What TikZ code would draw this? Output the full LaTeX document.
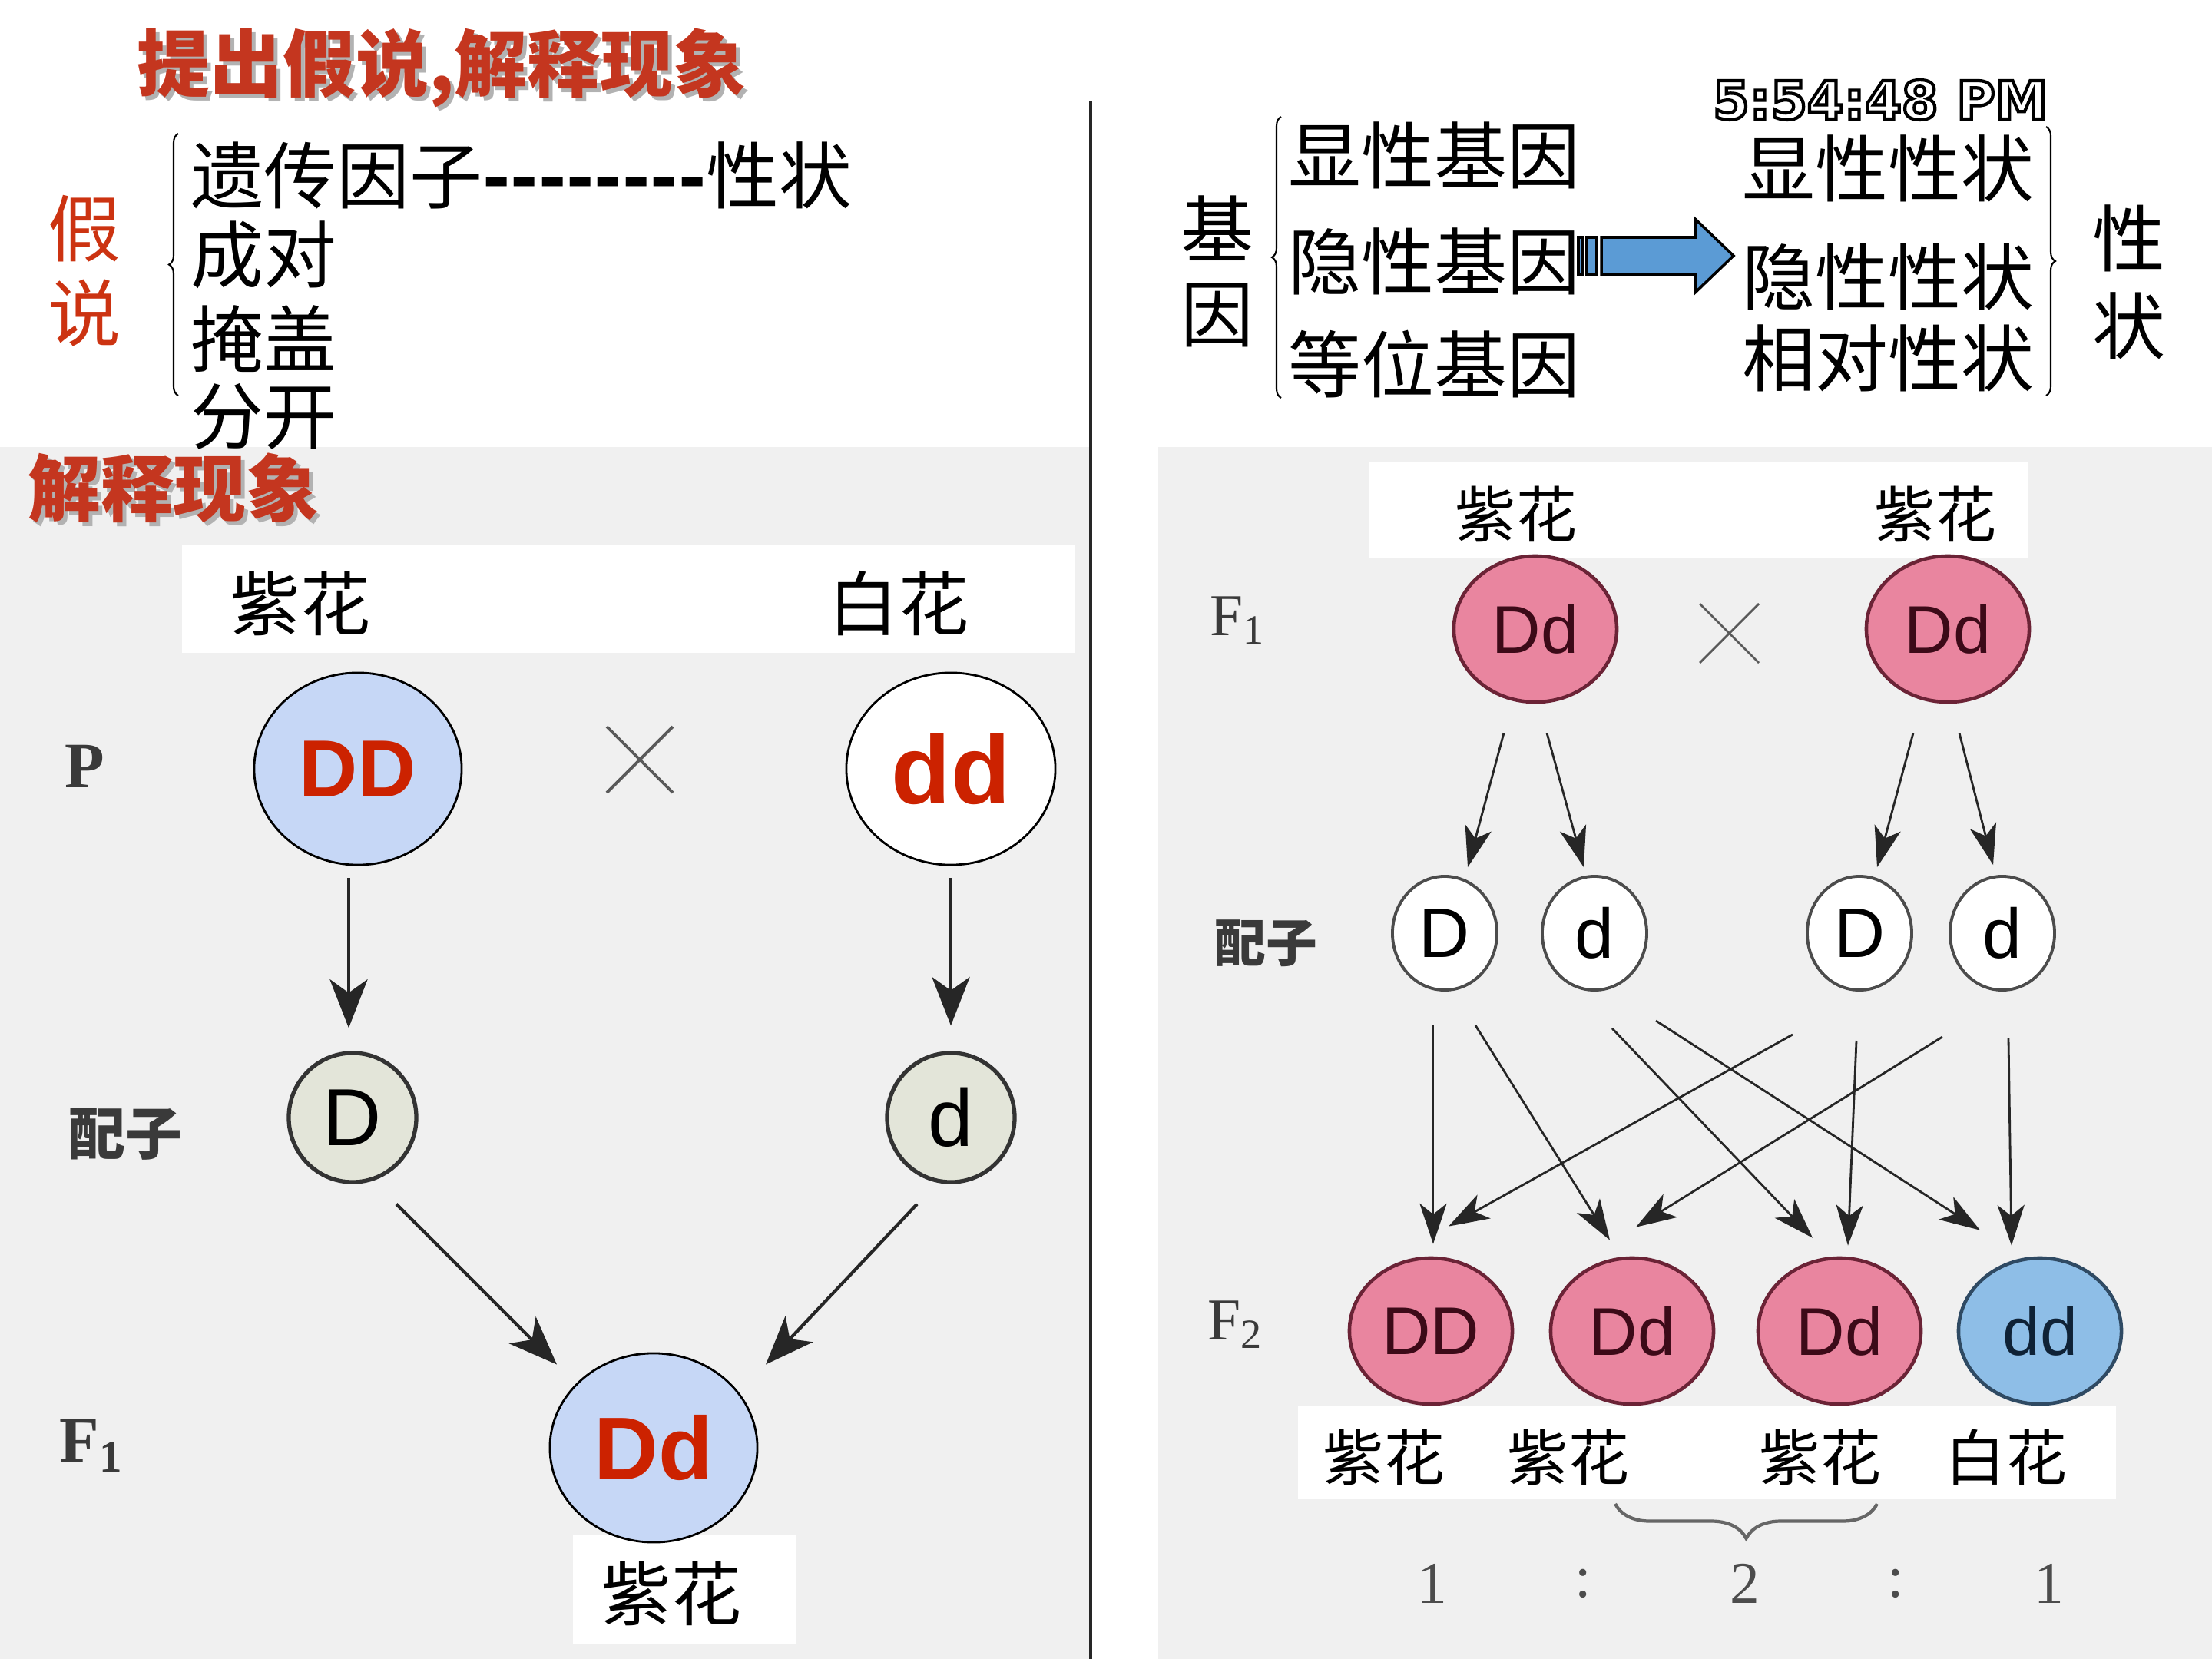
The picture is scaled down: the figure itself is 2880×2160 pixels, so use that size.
\documentclass[tikz,border=0pt]{standalone}
\usepackage{fontspec}
\usetikzlibrary{arrows.meta, shapes.geometric, calc, decorations.pathreplacing}

\newfontfamily\cjk{Noto Sans CJK SC}
\newfontfamily\arialf{Liberation Sans}
\newfontfamily\serf{Liberation Serif}
\newfontfamily\clockf{DejaVu Sans}

\definecolor{titlered}{HTML}{C4361F}
\definecolor{jiared}{HTML}{CC3311}
\definecolor{panel}{HTML}{F0F0F0}
\definecolor{pblue}{HTML}{C6D7F6}
\definecolor{gred}{HTML}{CC2200}
\definecolor{gamfill}{HTML}{E3E5D9}
\definecolor{pinkfill}{HTML}{E9859F}
\definecolor{pinkedge}{HTML}{6B2336}
\definecolor{pinktext}{HTML}{3C0A18}
\definecolor{bluefill}{HTML}{8EBEE7}
\definecolor{blueedge}{HTML}{2F4A63}
\definecolor{bluetext}{HTML}{0F2236}
\definecolor{arrfill}{HTML}{5B9BD5}
\definecolor{labgray}{HTML}{3A3A3A}

% outlined letters for the clock
\newcommand{\outlined}[1]{\special{pdf:literal direct 1 Tr 1.2 w}#1\special{pdf:literal direct 0 Tr 0.3985 w}}
\newcommand{\dashrun}{-\kern0pt-\kern0pt-\kern0pt-\kern0pt-\kern0pt-\kern0pt-\kern0pt-}

\begin{document}
\begin{tikzpicture}[x=0.01cm, y=-0.01cm,
  hz/.style={font=\cjk\fontsize{27}{31.3}\selectfont, inner sep=0pt, align=center},
  hzred/.style={font=\cjk\bfseries\fontsize{27}{30}\selectfont, inner sep=0pt, text=titlered},
  hzshadow/.style={font=\cjk\bfseries\fontsize{27}{30}\selectfont, inner sep=0pt, text=black!30},
  flower/.style={font=\cjk\fontsize{26}{28}\selectfont, inner sep=0pt},
  sflower/.style={font=\cjk\fontsize{22.5}{24}\selectfont, inner sep=0pt},
  stage/.style={font=\serf\bfseries\fontsize{24}{26}\selectfont, text=labgray, inner sep=0pt},
  stagehz/.style={font=\cjk\bfseries\fontsize{21}{23}\selectfont, text=labgray, inner sep=0pt},
  clock/.style={font=\clockf\bfseries\fontsize{19.5}{21}\selectfont, text=black, inner sep=0pt},
  ratio/.style={font=\serf\fontsize{22}{24}\selectfont, text=black!70, inner sep=0pt},
  pcell/.style={ellipse, draw=black, line width=0.8pt, inner sep=0pt, minimum width=2.70cm,
    minimum height=2.50cm, text=gred, font=\arialf\bfseries\fontsize{30}{32}\selectfont},
  lgam/.style={ellipse, draw=black!80, line width=1.5pt, fill=gamfill, inner sep=0pt,
    minimum width=1.66cm, minimum height=1.68cm, font=\arialf\fontsize{30}{32}\selectfont},
  rgam/.style={ellipse, draw=black!70, line width=1.1pt, fill=white, inner sep=0pt,
    minimum width=1.36cm, minimum height=1.48cm, font=\arialf\fontsize{26}{28}\selectfont},
  pinkcell/.style={ellipse, draw=pinkedge, line width=1.3pt, fill=pinkfill, inner sep=0pt,
    minimum width=2.12cm, minimum height=1.90cm, text=pinktext, font=\arialf\fontsize{25}{27}\selectfont},
  larr/.style={draw=black!85, line width=1.2pt, -{Stealth[length=18pt, width=14pt, inset=5pt]}},
  rarr/.style={draw=black!85, line width=0.8pt, -{Stealth[length=15pt, width=10pt, inset=4pt]}},
  crossmark/.style={draw=black!65, line width=1.1pt},
  bracel/.style={decorate, decoration={brace, amplitude=0.12cm}, line width=0.6pt},
  braceg/.style={decorate, decoration={brace, amplitude=0.45cm, aspect=0.5}, draw=black!60, line width=1.2pt},
  blockarr/.style={fill=arrfill, draw=black, line width=1pt},
]
\useasboundingbox (0,0) rectangle (2880,2160);

% panels
\fill[panel] (0,582) rectangle (1420,2160);
\fill[panel] (1508,582) rectangle (2880,2160);
\fill[white] (237,709) rectangle (1400,850);
\fill[white] (746,1998) rectangle (1036,2140);
\fill[white] (1782,602) rectangle (2641,727);
\fill[white] (1690,1831) rectangle (2755,1952);
\draw[black!85, line width=0.9pt] (1420,132) -- (1420,2160);

% hypothesis
\node[hzshadow] at (580,93) {提出假说,解释现象};
\node[hzred] (title) at (575,88) {提出假说,解释现象};
\node[hz, text=jiared] (jiashuo) at (110,353) {假\\说};
\draw[bracel] (232,515) -- (232,174);
\node[hz, anchor=west] (yichuan) at (248,228) {遗传因子{\bfseries\dashrun}性状};
\node[hz, anchor=west] (chengdui) at (248,332) {成对};
\node[hz, anchor=west] (yangai) at (248,441) {掩盖};
\node[hz, anchor=west] (fenkai) at (248,542) {分开};
\node[hzshadow] at (231,640) {解释现象};
\node[hzred] (jieshi) at (226,635) {解释现象};

% gene / trait
\node[hz] (jiyin) at (1585,353) {基\\因};
\draw[bracel] (1668,518) -- (1668,152);
\node[hz, anchor=west] (xianji) at (1677,202) {显性基因};
\node[hz, anchor=west] (yinji) at (1677,340) {隐性基因};
\node[hz, anchor=west] (dengwei) at (1677,474) {等位基因};
\draw[blockarr] (2055,309) rectangle (2060,357);
\draw[blockarr] (2066,309) rectangle (2079,357);
\draw[blockarr] (2085,309) -- (2207,309) -- (2207,285) -- (2257,333) -- (2207,381) -- (2207,357) -- (2085,357) -- cycle;
\node[clock] (clock) at (2448,130) {\outlined{5:54:48 PM}};
\node[hz, anchor=west] (xianxing) at (2268,219) {显性性状};
\node[hz, anchor=west] (yinxing) at (2268,360) {隐性性状};
\node[hz, anchor=west] (xiangdui) at (2268,466) {相对性状};
\draw[bracel] (2664,165) -- (2664,515);
\node[hz, font=\cjk\fontsize{27}{32.4}\selectfont] (xingzhuang) at (2772,367) {性\\状};

% left cross
\node[flower] (zi1) at (391,786) {紫花};
\node[flower] (bai1) at (1170,786) {白花};
\node[stage] (P) at (110,998) {P};
\node[pcell, fill=pblue] (lDD) at (466,1001) {DD};
\node[pcell, fill=white, minimum width=2.72cm, font=\arialf\bfseries\fontsize{36}{38}\selectfont] (ldd) at (1238,1001) {dd};
\draw[crossmark] (790,946) -- (876,1032) (790,1032) -- (876,946);
\node[stagehz] (peizi1) at (163,1477) {配子};
\node[lgam] (lgD) at (459,1455) {D};
\node[lgam] (lgd) at (1238,1455) {d};
\node[stage] (F1l) at (119,1882) {F\textsubscript{1}};
\node[pcell, fill=pblue, minimum height=2.46cm, font=\arialf\bfseries\fontsize{33}{35}\selectfont] (lDd) at (851,1885) {Dd};
\node[flower] (zi2) at (874,2075) {紫花};

\draw[larr] ($(lDD.south)+(-12,16)$) -- ($(lgD.north)+(-5,-30)$);
\draw[larr] ($(ldd.south)+(0,16)$) -- ($(lgd.north)+(0,-33)$);
\draw[larr] ($(lgD.south)+(57,26)$) -- ($(lDd.north)+(-126,16)$);
\draw[larr] ($(lgd.south)+(-44,26)$) -- ($(lDd.north)+(146,16)$);

% right cross
\node[sflower] (zi3) at (1974,669) {紫花};
\node[sflower] (zi4) at (2520,669) {紫花};
\node[stage, font=\serf\fontsize{22}{24}\selectfont] (F1r) at (1611,808) {F\textsubscript{1}};
\node[pinkcell] (rDd1) at (1999,819) {Dd};
\node[pinkcell] (rDd2) at (2536,819) {Dd};
\draw[crossmark, line width=0.8pt] (2213,786) -- (2290,863) (2213,863) -- (2290,786);
\node[stagehz, font=\cjk\bfseries\fontsize{19}{21}\selectfont] (peizi2) at (1648,1228) {配子};
\node[rgam] (rD1) at (1881,1215) {D};
\node[rgam] (rd1) at (2076,1215) {d};
\node[rgam] (rD2) at (2421,1215) {D};
\node[rgam] (rd2) at (2607,1215) {d};

\draw[rarr] ($(rDd1.south)+(-41,38)$) -- ($(rD1.north)+(30,-10)$);
\draw[rarr] ($(rDd1.south)+(15,38)$) -- ($(rd1.north)+(-14,-10)$);
\draw[rarr] ($(rDd2.south)+(-45,38)$) -- ($(rD2.north)+(23,-10)$);
\draw[rarr] ($(rDd2.south)+(15,38)$) -- ($(rd2.north)+(-12,-13)$);

\node[stage, font=\serf\fontsize{22}{24}\selectfont] (F2r) at (1608,1725) {F\textsubscript{2}};
\node[pinkcell] (fDD) at (1863,1733) {DD};
\node[pinkcell] (fDd1) at (2125,1733) {Dd};
\node[pinkcell] (fDd2) at (2395,1733) {Dd};
\node[pinkcell, fill=bluefill, draw=blueedge, text=bluetext] (fdd) at (2656,1733) {dd};

\draw[rarr] ($(rD1.south)+(-15,44)$) -- ($(fDD.north)+(3,-16)$);
\draw[rarr] ($(rD1.south)+(40,44)$) -- ($(fDd1.north)+(-29,-21)$);
\draw[rarr] ($(rd1.south)+(23,48)$) -- ($(fDd2.north)+(-35,-24)$);
\draw[rarr] ($(rd1.south)+(80,38)$) -- ($(fdd.north)+(-78,-34)$);
\draw[rarr] ($(rD2.south)+(-87,56)$) -- ($(fDD.north)+(23,-39)$);
\draw[rarr] ($(rD2.south)+(-4,64)$) -- ($(fDd2.north)+(11,-14)$);
\draw[rarr] ($(rd2.south)+(-78,59)$) -- ($(fDd1.north)+(5,-38)$);
\draw[rarr] ($(rd2.south)+(8,61)$) -- ($(fdd.north)+(-37,-14)$);

\node[sflower] (zi5) at (1802,1897) {紫花};
\node[sflower] (zi6) at (2042,1897) {紫花};
\node[sflower] (zi7) at (2370,1897) {紫花};
\node[sflower] (bai2) at (2612,1897) {白花};
\draw[braceg] (2444,1958) -- (2103,1958);
\node[ratio] (n1) at (1865,2062) {1};
\node[ratio] (c1) at (2061,2062) {:};
\node[ratio] (n2) at (2272,2062) {2};
\node[ratio] (c2) at (2468,2062) {:};
\node[ratio] (n3) at (2668,2062) {1};
\end{tikzpicture}
\end{document}
